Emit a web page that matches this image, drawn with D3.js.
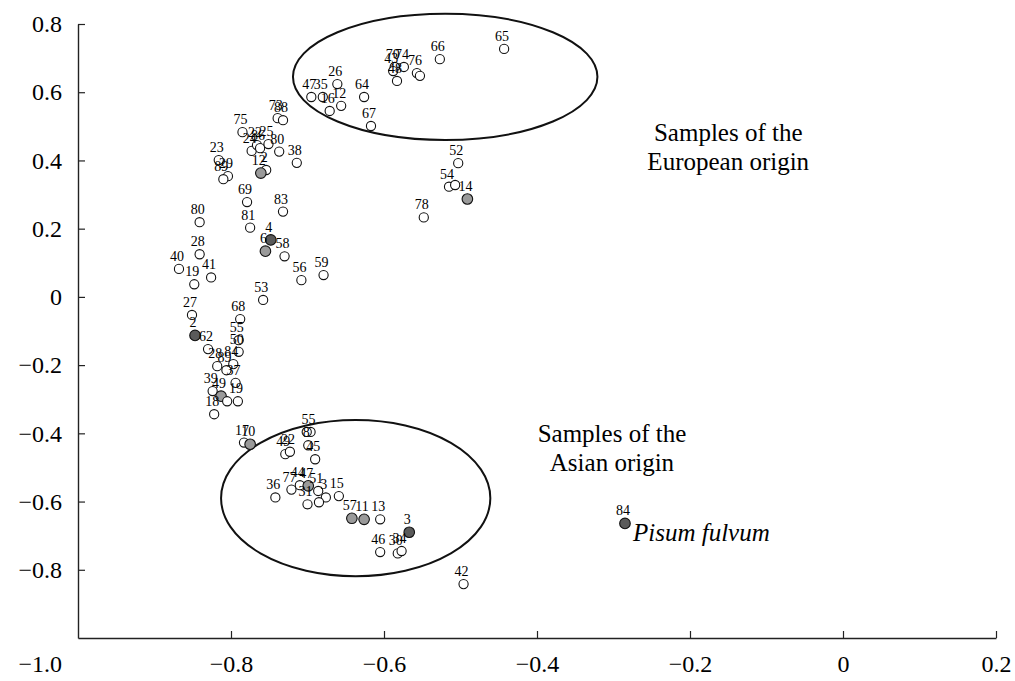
<!DOCTYPE html>
<html>
<head>
<meta charset="utf-8">
<script src="https://cdn.jsdelivr.net/npm/d3@7"></script>
<style>
  html, body { margin: 0; padding: 0; background: #fff; }
  svg { display: block; }
  svg text { font-family: "Liberation Serif", "Times New Roman", serif; fill: #000; }
</style>
</head>
<body>
<svg id="chart" width="1015" height="681"></svg>
<script>
// ---------- data ----------
const xTicks = [-1.0, -0.8, -0.6, -0.4, -0.2, 0, 0.2];
const yTicks = [-1.0, -0.8, -0.6, -0.4, -0.2, 0, 0.2, 0.4, 0.6, 0.8];

const pointLabels = [
  "65","66","76","","70","74","43","48","26","47","35","16","12","64","67",
  "52","54","","14","78",
  "73","88","75","23","29","89","24","22","86","25","80","38","2","12",
  "69","83","80","81","4","6","58","28","40","41","19","56","59","53",
  "27","68","2","55","50","62","28","89","84","37","39","49","","19","18",
  "17","10","55","","8","45","49","22","36","77","44","47","51","3","31","","15",
  "57","11","13","3","46","30","34","42","84"
];
const pointX = [
  -0.443,-0.527,-0.557,-0.553,-0.586,-0.574,-0.588,-0.583,-0.661,-0.695,-0.680,-0.671,-0.656,-0.626,-0.617,
  -0.503,-0.515,-0.507,-0.491,-0.548,
  -0.739,-0.732,-0.785,-0.816,-0.804,-0.810,-0.773,-0.766,-0.762,-0.751,-0.737,-0.714,-0.754,-0.761,
  -0.779,-0.732,-0.841,-0.775,-0.748,-0.755,-0.730,-0.841,-0.868,-0.826,-0.848,-0.708,-0.679,-0.758,
  -0.851,-0.788,-0.847,-0.790,-0.790,-0.830,-0.818,-0.806,-0.797,-0.794,-0.824,-0.813,-0.805,-0.791,-0.822,
  -0.783,-0.775,-0.696,-0.701,-0.699,-0.690,-0.729,-0.723,-0.742,-0.721,-0.710,-0.699,-0.686,-0.676,-0.700,-0.685,-0.659,
  -0.642,-0.626,-0.605,-0.567,-0.605,-0.582,-0.577,-0.496,-0.285
];
const pointY = [
  0.727,0.697,0.656,0.648,0.674,0.674,0.662,0.633,0.624,0.586,0.586,0.545,0.560,0.586,0.501,
  0.392,0.323,0.328,0.287,0.233,
  0.524,0.518,0.483,0.401,0.354,0.345,0.428,0.445,0.436,0.448,0.426,0.393,0.372,0.363,
  0.278,0.250,0.219,0.203,0.167,0.134,0.119,0.125,0.082,0.057,0.037,0.049,0.064,-0.009,
  -0.053,-0.065,-0.113,-0.127,-0.161,-0.153,-0.203,-0.215,-0.197,-0.252,-0.276,-0.291,-0.306,-0.306,-0.344,
  -0.427,-0.432,-0.396,-0.396,-0.435,-0.476,-0.461,-0.454,-0.588,-0.565,-0.552,-0.554,-0.569,-0.588,-0.608,-0.602,-0.584,
  -0.649,-0.652,-0.652,-0.690,-0.748,-0.752,-0.745,-0.842,-0.664
];
// w = open, g = grey, d = dark
const pointType = [
  "w","w","w","w","w","w","w","w","w","w","w","w","w","w","w",
  "w","w","w","g","w",
  "w","w","w","w","w","w","w","w","w","w","w","w","w","g",
  "w","w","w","w","d","g","w","w","w","w","w","w","w","w",
  "w","w","d","w","w","w","w","w","w","w","w","g","w","w","w",
  "w","g","w","w","w","w","w","w","w","w","w","g","w","w","w","w","w",
  "g","g","w","d","w","w","w","w","d"
];

// ellipses (centre x, centre y, radius x, radius y) in data units
const ellipseCX = [-0.520, -0.637];
const ellipseCY = [0.645, -0.590];
const ellipseRX = [0.199, 0.176];
const ellipseRY = [0.185, 0.229];

// group annotations
const noteLines = [["Samples of the", "European origin"], ["Samples of the", "Asian origin"]];
const noteX = [-0.150, -0.302];
const noteY = [0.457, -0.426];
const speciesLabel = "Pisum fulvum";
const speciesIndex = pointX.length - 1;

// ---------- drawing ----------
const SERIF = '"Liberation Serif", "Times New Roman", Times, serif';
const svg = d3.select("#chart");
const x = d3.scaleLinear().domain([-1.0, 0.2]).range([78, 996]);
const y = d3.scaleLinear().domain([-1.0, 0.8]).range([638, 24]);

const fmt = d => d === 0 ? "0" : d3.format(".1f")(d).replace("-", "\u2212");

const fills = { w: "#ffffff", g: "#9a9a9a", d: "#5a5a5a" };

// axes
const xAxis = svg.append("g")
  .attr("transform", `translate(0,${y(-1.0)})`)
  .call(d3.axisBottom(x).tickValues(xTicks.slice(1)).tickSize(-7).tickSizeOuter(0).tickPadding(17).tickFormat(fmt));
const yAxis = svg.append("g")
  .attr("transform", `translate(${x(-1.0)},0)`)
  .call(d3.axisLeft(y).tickValues(yTicks.slice(1)).tickSize(-7).tickSizeOuter(0).tickPadding(16).tickFormat(fmt));
[xAxis, yAxis].forEach(a => {
  a.attr("font-family", SERIF).attr("font-size", 24);
  a.select(".domain").attr("stroke", "#222").attr("stroke-width", 1.4);
  a.selectAll(".tick line").attr("stroke", "#222").attr("stroke-width", 1.2);
  a.selectAll(".tick text").attr("fill", "#000")
    .attr("font-family", SERIF).attr("font-size", 24)
    .style("font-family", SERIF).style("font-size", "24px");
});
// shared corner label (-1.0)
svg.append("text")
  .attr("x", x(-1.0) - 16)
  .attr("y", y(-1.0) + 34)
  .attr("text-anchor", "end")
  .style("font-family", SERIF)
  .style("font-size", "24px")
  .text(fmt(xTicks[0]));

// ellipses
svg.selectAll("ellipse.group")
  .data(ellipseCX.map((cx, i) => i))
  .enter().append("ellipse")
  .attr("class", "group")
  .attr("cx", i => x(ellipseCX[i]))
  .attr("cy", i => y(ellipseCY[i]))
  .attr("rx", i => x(ellipseCX[i] + ellipseRX[i]) - x(ellipseCX[i]))
  .attr("ry", i => y(ellipseCY[i] - ellipseRY[i]) - y(ellipseCY[i]))
  .attr("fill", "none")
  .attr("stroke", "#111")
  .attr("stroke-width", 2);

const idx = d3.range(pointX.length);

// points
svg.selectAll("circle.pt")
  .data(idx)
  .enter().append("circle")
  .attr("class", "pt")
  .attr("cx", i => x(pointX[i]))
  .attr("cy", i => y(pointY[i]))
  .attr("r", i => pointType[i] === "w" ? 4.6 : 5.3)
  .attr("fill", i => fills[pointType[i]])
  .attr("stroke", "#111")
  .attr("stroke-width", 1.1);

// point labels
svg.selectAll("text.pl")
  .data(idx.filter(i => pointLabels[i] !== ""))
  .enter().append("text")
  .attr("class", "pl")
  .attr("x", i => x(pointX[i]) - 2)
  .attr("y", i => y(pointY[i]) - 8)
  .attr("text-anchor", "middle")
  .style("font-family", SERIF)
  .style("font-size", "14px")
  .text(i => pointLabels[i]);

// species label
svg.append("text")
  .attr("x", x(pointX[speciesIndex]) + 8)
  .attr("y", y(pointY[speciesIndex]) + 18)
  .style("font-family", SERIF)
  .style("font-size", "25px")
  .style("font-style", "italic")
  .text(speciesLabel);

// group notes
noteLines.forEach((lines, k) => {
  lines.forEach((t, j) => {
    svg.append("text")
      .attr("x", x(noteX[k]))
      .attr("y", y(noteY[k]) + j * 29)
      .attr("text-anchor", "middle")
      .style("font-family", SERIF)
      .style("font-size", "25px")
      .text(t);
  });
});
</script>
</body>
</html>
